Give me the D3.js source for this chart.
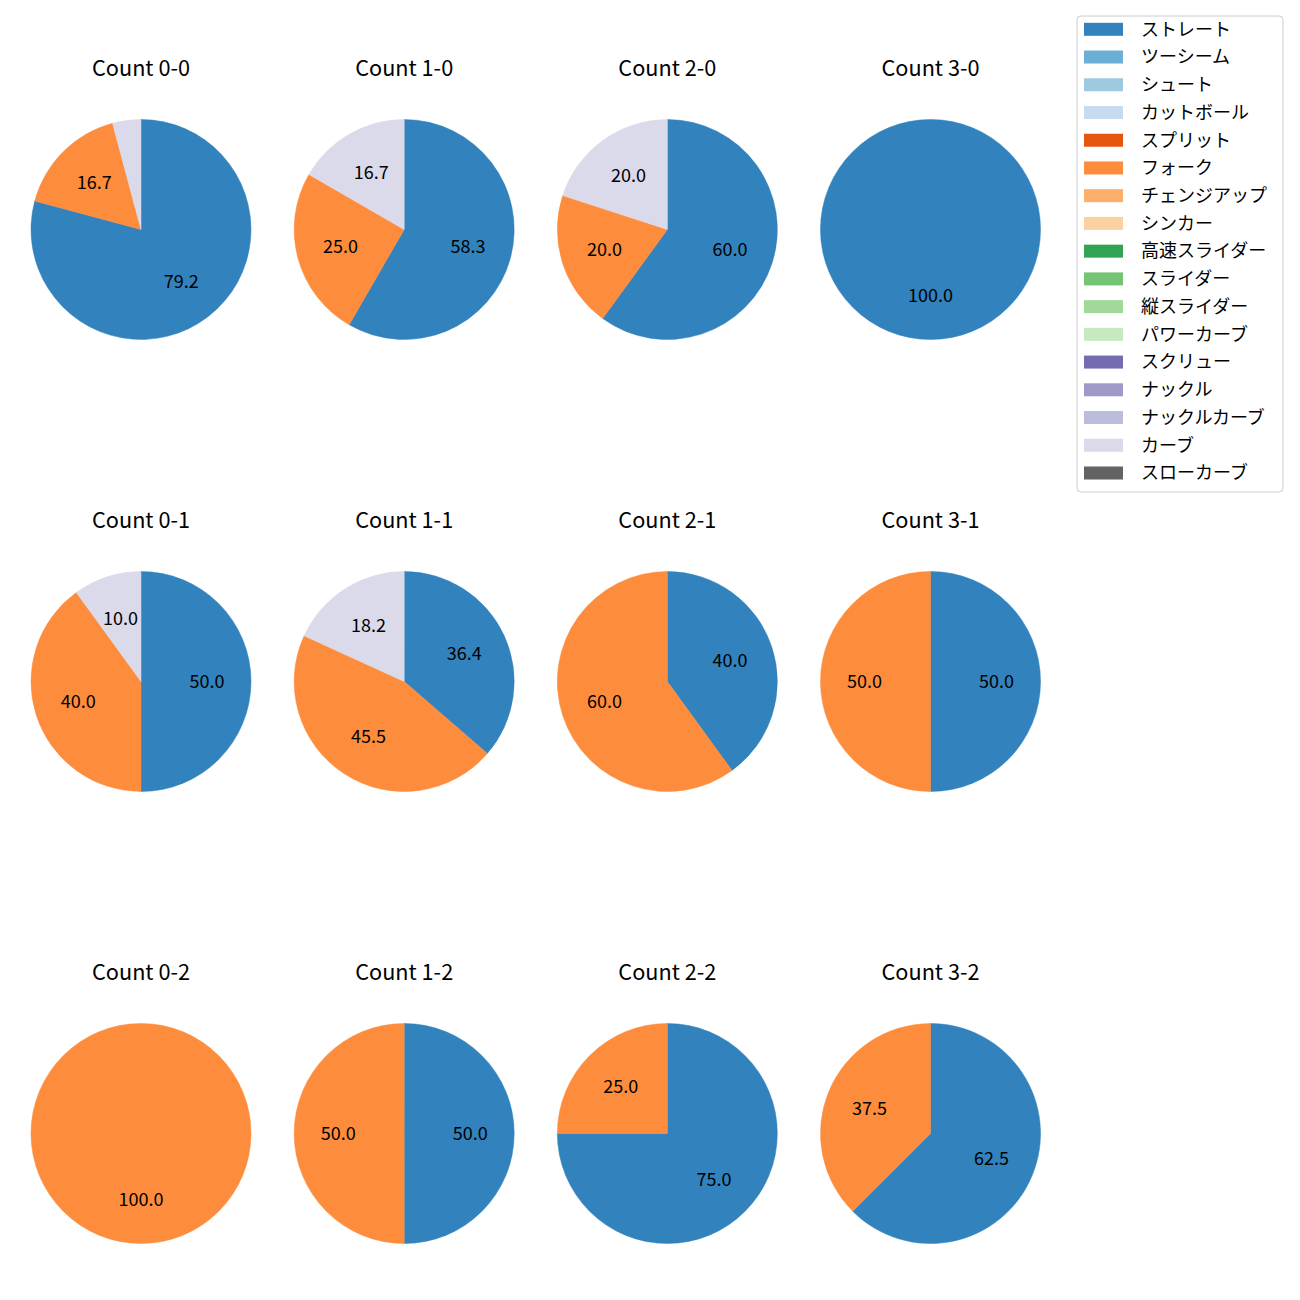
<!DOCTYPE html>
<html>
<head>
<meta charset="utf-8">
<script src="https://cdn.jsdelivr.net/npm/d3@7"></script>
<style>
  html, body { margin: 0; padding: 0; background: #fff; }
  text { font-family: "Noto Sans CJK JP", "Noto Sans", sans-serif; fill: #000; }
</style>
</head>
<body>
<svg id="chart" width="1300" height="1300"></svg>
<script>
// Pitch types (legend order) and their colours
const pitchTypes = ["ストレート","ツーシーム","シュート","カットボール","スプリット","フォーク","チェンジアップ","シンカー","高速スライダー","スライダー","縦スライダー","パワーカーブ","スクリュー","ナックル","ナックルカーブ","カーブ","スローカーブ"];
const pitchColors = ["#3182bd","#6baed6","#9ecae1","#c6dbef","#e6550d","#fd8d3c","#fdae6b","#fdd0a2","#31a354","#74c476","#a1d99b","#c7e9c0","#756bb1","#9e9ac8","#bcbddc","#dadaeb","#636363"];

// Grid of counts
const balls = ["0","1","2","3"];
const strikes = ["0","1","2"];

// Pitch counts per ball-strike count: [ストレート, フォーク, カーブ]
const countTypes = ["ストレート","フォーク","カーブ"];
const count_0_0 = [19, 4, 1];
const count_1_0 = [7, 3, 2];
const count_2_0 = [3, 1, 1];
const count_3_0 = [1, 0, 0];
const count_0_1 = [5, 4, 1];
const count_1_1 = [4, 5, 2];
const count_2_1 = [2, 3, 0];
const count_3_1 = [1, 1, 0];
const count_0_2 = [0, 1, 0];
const count_1_2 = [1, 1, 0];
const count_2_2 = [3, 1, 0];
const count_3_2 = [5, 3, 0];

const countData = {
  "0-0": count_0_0, "1-0": count_1_0, "2-0": count_2_0, "3-0": count_3_0,
  "0-1": count_0_1, "1-1": count_1_1, "2-1": count_2_1, "3-1": count_3_1,
  "0-2": count_0_2, "1-2": count_1_2, "2-2": count_2_2, "3-2": count_3_2
};

const color = d3.scaleOrdinal().domain(pitchTypes).range(pitchColors);
const svg = d3.select("#chart");

const xScale = d3.scalePoint().domain(balls).range([141, 930.5]);
const yScale = d3.scalePoint().domain(strikes).range([229.5, 1133.5]);
const R = 110;

const pie = d3.pie().sort(null).value(d => d.v);
const arc = d3.arc().innerRadius(0).outerRadius(R);
const labelArc = d3.arc().innerRadius(R * 0.6).outerRadius(R * 0.6);

strikes.forEach(s => {
  balls.forEach(b => {
    const key = b + "-" + s;
    const vals = countData[key];
    const total = d3.sum(vals);
    const items = countTypes.map((t, i) => ({ t, v: vals[i] })).filter(d => d.v > 0);
    const g = svg.append("g").attr("transform", `translate(${xScale(b)},${yScale(s)})`);
    const arcs = pie(items);
    g.selectAll("path").data(arcs).join("path")
      .attr("d", arc)
      .attr("fill", d => color(d.data.t))
      .attr("stroke", d => color(d.data.t))
      .attr("stroke-width", 0.5);
    g.selectAll("text.lbl").data(arcs.filter(d => d.data.v / total * 100 >= 5)).join("text")
      .attr("class", "lbl")
      .attr("transform", d => `translate(${labelArc.centroid(d)})`)
      .attr("text-anchor", "middle")
      .attr("dy", "0.35em")
      .style("font-size", "18px")
      .text(d => (d.data.v / total * 100).toFixed(1));
    svg.append("text")
      .attr("x", xScale(b))
      .attr("y", yScale(s) - 153.5)
      .attr("text-anchor", "middle")
      .style("font-size", "21.7px")
      .text("Count " + key);
  });
});

// Legend
const lg = svg.append("g");
lg.append("rect")
  .attr("x", 1077).attr("y", 16)
  .attr("width", 206).attr("height", 476)
  .attr("rx", 4).attr("ry", 4)
  .attr("fill", "#fff").attr("fill-opacity", 0.8)
  .attr("stroke", "#cccccc").attr("stroke-width", 1);
const ly = d3.scalePoint().domain(pitchTypes).range([29.3, 473]);
const items = lg.selectAll("g.item").data(pitchTypes).join("g")
  .attr("class", "item")
  .attr("transform", d => `translate(0,${ly(d)})`);
items.append("rect")
  .attr("x", 1084).attr("y", -6.5)
  .attr("width", 39).attr("height", 13)
  .attr("fill", d => color(d));
items.append("text")
  .attr("x", 1141).attr("dy", "0.35em")
  .style("font-size", "18px")
  .text(d => d);
</script>
</body>
</html>
